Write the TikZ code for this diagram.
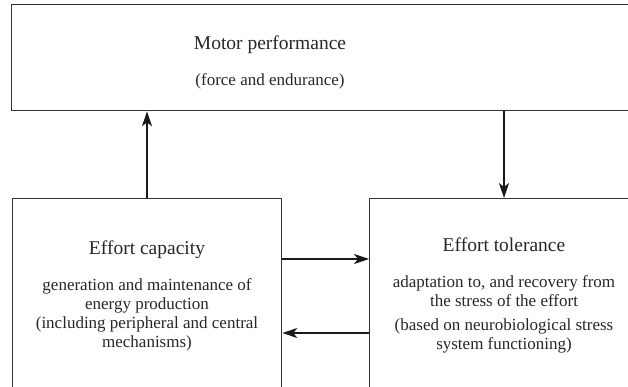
\documentclass[tikz,border=0pt]{standalone}
\usepackage{fontspec}
\setmainfont{Liberation Serif}
\usetikzlibrary{arrows.meta}
\begin{document}
\begin{tikzpicture}[x=1pt,y=-1pt,
  box/.style={draw=black!80, line width=1.3pt, inner sep=0pt, anchor=north west},
  ttl/.style={font=\fontsize{19.5}{23}\selectfont, inner sep=0pt, text=black!85},
  body/.style={font=\fontsize{17}{19}\selectfont, align=center, inner sep=0pt, text=black!85},
  arr/.style={draw=black!90, line width=1.1pt, -{Stealth[length=15pt,width=10pt,inset=4pt]}}]
\clip (0,0) rectangle (628,387);
\node[box, minimum width=640pt, minimum height=106pt] (perf) at (11,4) {};
\node[box, minimum width=269pt, minimum height=220pt] (cap) at (12,198) {};
\node[box, minimum width=280pt, minimum height=220pt] (tol) at (369,198) {};
% texts
\node[ttl] (perfT) at (270,45) {Motor performance};
\node[body] (perfS) at (270,81) {(force and endurance)};
\node[ttl] (capT) at (147,250) {Effort capacity};
\node[body] (capS) at (147,314.5) {generation and maintenance of\\energy production\\(including peripheral and central\\mechanisms)};
\node[ttl] (tolT) at (504,245) {Effort tolerance};
\node[body] (tolS1) at (504,291) {adaptation to, and recovery from\\the stress of the effort};
\node[body] (tolS2) at (504,336) {(based on neurobiological stress\\system functioning)};
% connectors
\coordinate (upx) at (147,0);
\coordinate (downx) at (504,0);
\coordinate (hya) at (0,259);
\coordinate (hyb) at (0,333);
\draw[arr] (cap.north -| upx) -- (perf.south -| upx);
\draw[arr] (perf.south -| downx) -- (tol.north -| downx);
\draw[arr] (cap.east |- hya) -- (tol.west |- hya);
\draw[arr] (tol.west |- hyb) -- (cap.east |- hyb);
\end{tikzpicture}
\end{document}
